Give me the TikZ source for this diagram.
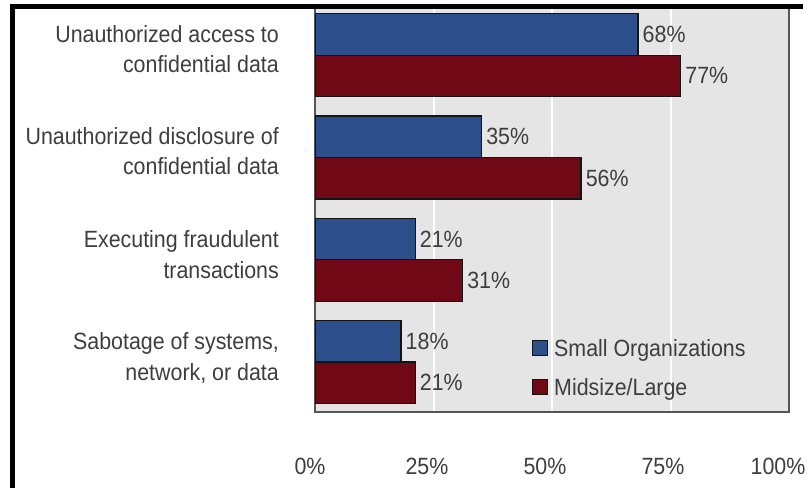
\documentclass[tikz,border=0pt]{standalone}
\usepackage{fontspec}
\setmainfont{Liberation Sans}
\newfontfamily\condsans[FakeStretch=0.91]{Liberation Sans}
\definecolor{txt}{RGB}{62,62,62}
\definecolor{plotbg}{RGB}{229,229,229}
\definecolor{plotframe}{RGB}{85,85,85}
\definecolor{smallblue}{RGB}{44,78,138}
\definecolor{largered}{RGB}{112,8,22}
\tikzset{
  lbl/.style={font=\condsans\fontsize{23.5}{27}\selectfont, text=txt, inner sep=0pt},
  barbox/.style={draw={rgb,255:red,20;green,20;blue,20}, line width=1.2pt, anchor=north west, inner sep=0pt, minimum height=41.5pt},
  smallbar/.style={barbox, fill=smallblue},
  largebar/.style={barbox, fill=largered},
  keybox/.style={draw={rgb,255:red,20;green,20;blue,20}, line width=1.2pt, anchor=north west, inner sep=0pt, minimum width=15pt, minimum height=15pt}
}
\begin{document}
\begin{tikzpicture}[x=1pt,y=-1pt]
\useasboundingbox (0,0) rectangle (807,488);
\fill[white] (0,0) rectangle (807,488);
% plot area
\fill[plotbg] (315,8) rectangle (789,412);
\foreach \g in {433.5,552,670.5} \draw[white, line width=2pt] (\g,8) -- (\g,412);
\draw[plotframe, line width=1.6pt] (315,8) -- (315,412) -- (789,412) -- (789,8);
% bars
\foreach \i/\s/\l in {0/68/77,1/35/56,2/21/31,3/18/21} {
  \pgfmathsetmacro\topy{13+102.3*\i}
  \pgfmathsetmacro\midy{13+102.3*\i+41.5}
  \node[smallbar, minimum width=\s*4.74pt] (s\i) at (315,\topy) {};
  \node[largebar, minimum width=\l*4.74pt] (l\i) at (315,\midy) {};
  \node[lbl, anchor=west] (ps\i) at ([xshift=4pt]s\i.east) {\s\%};
  \node[lbl, anchor=west] (pl\i) at ([xshift=4pt]l\i.east) {\l\%};
}
% category labels
\node[lbl, anchor=base east] (c0a) at (279,42) {Unauthorized access to};
\node[lbl, anchor=base east] (c0b) at (279,72) {confidential data};
\node[lbl, anchor=base east] (c1a) at (279,144) {Unauthorized disclosure of};
\node[lbl, anchor=base east] (c1b) at (279,174) {confidential data};
\node[lbl, anchor=base east] (c2a) at (279,247) {Executing fraudulent};
\node[lbl, anchor=base east] (c2b) at (279,278) {transactions};
\node[lbl, anchor=base east] (c3a) at (279,349) {Sabotage of systems,};
\node[lbl, anchor=base east] (c3b) at (279,380) {network, or data};
% legend
\node[keybox, fill=smallblue] (k1) at (532,340) {};
\node[keybox, fill=largered] (k2) at (532,379) {};
\node[lbl, anchor=base west] (k1t) at (554,356) {Small Organizations};
\node[lbl, anchor=base west] (k2t) at (554,395) {Midsize/Large};
% axis labels
\node[lbl, anchor=base] (a0) at (310,474) {0\%};
\node[lbl, anchor=base] (a1) at (427,474) {25\%};
\node[lbl, anchor=base] (a2) at (545,474) {50\%};
\node[lbl, anchor=base] (a3) at (663,474) {75\%};
\node[lbl, anchor=base] (a4) at (778,474) {100\%};
% outer frame (top and left edges)
\fill[black] (10,4) rectangle (803,8.5);
\fill[black] (10,4) rectangle (15,488);
\end{tikzpicture}
\end{document}
